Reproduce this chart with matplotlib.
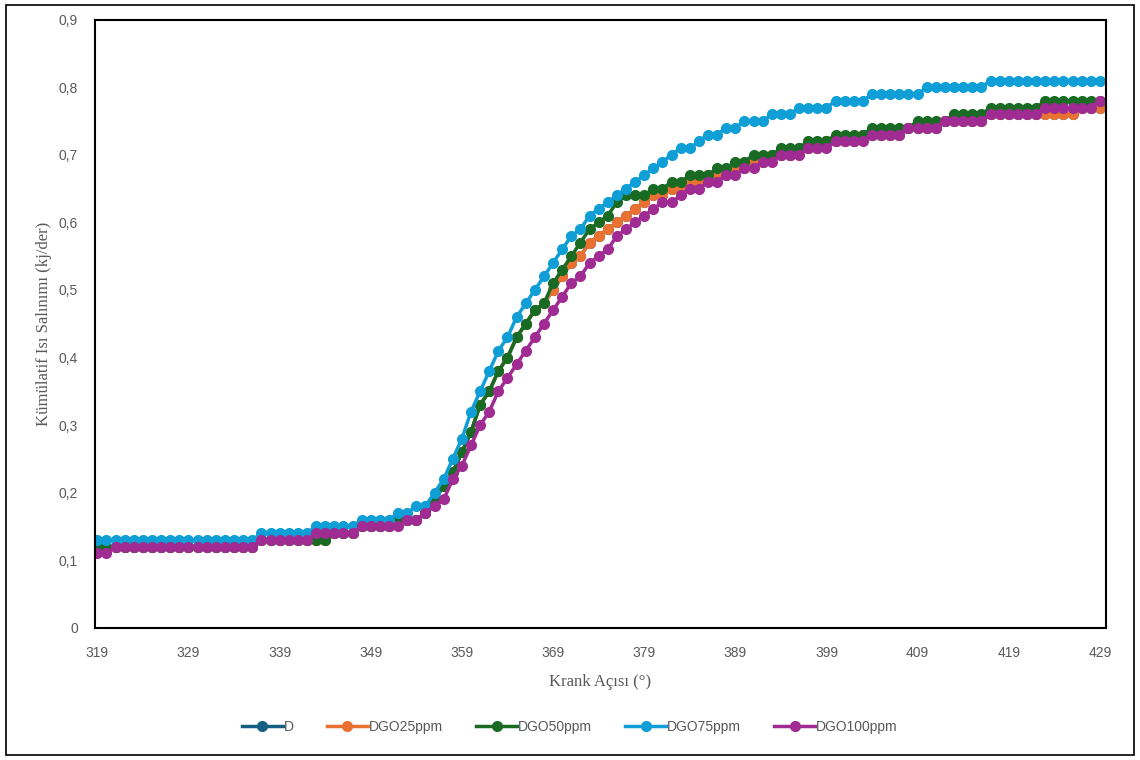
import matplotlib
matplotlib.use("Agg")
import matplotlib.pyplot as plt
from matplotlib.patches import Rectangle
from matplotlib.ticker import FuncFormatter

# krank açısı 319..429 derece
angle = list(range(319, 430))

# D serisi DGO25ppm ile örtüşüyor (grafikte görünmüyor)
d_vals = [
    0.12, 0.12, 0.12, 0.12, 0.12, 0.12, 0.12, 0.12, 0.12, 0.12,
    0.12, 0.12, 0.12, 0.12, 0.12, 0.12, 0.12, 0.12, 0.13, 0.13,
    0.13, 0.13, 0.13, 0.13, 0.13, 0.13, 0.14, 0.14, 0.14, 0.15,
    0.15, 0.15, 0.15, 0.16, 0.16, 0.16, 0.17, 0.19, 0.21, 0.23,
    0.26, 0.29, 0.33, 0.35, 0.38, 0.40, 0.43, 0.45, 0.47, 0.48,
    0.50, 0.52, 0.54, 0.55, 0.57, 0.58, 0.59, 0.60, 0.61, 0.62,
    0.63, 0.64, 0.64, 0.65, 0.65, 0.66, 0.66, 0.67, 0.67, 0.67,
    0.68, 0.68, 0.69, 0.69, 0.70, 0.70, 0.70, 0.71, 0.71, 0.71,
    0.72, 0.72, 0.72, 0.72, 0.73, 0.73, 0.73, 0.73, 0.73, 0.74,
    0.74, 0.74, 0.74, 0.75, 0.75, 0.75, 0.75, 0.75, 0.76, 0.76,
    0.76, 0.76, 0.76, 0.76, 0.76, 0.76, 0.76, 0.76, 0.77, 0.77,
    0.77,
]
dgo25 = [
    0.12, 0.12, 0.12, 0.12, 0.12, 0.12, 0.12, 0.12, 0.12, 0.12,
    0.12, 0.12, 0.12, 0.12, 0.12, 0.12, 0.12, 0.12, 0.13, 0.13,
    0.13, 0.13, 0.13, 0.13, 0.13, 0.13, 0.14, 0.14, 0.14, 0.15,
    0.15, 0.15, 0.15, 0.16, 0.16, 0.16, 0.17, 0.19, 0.21, 0.23,
    0.26, 0.29, 0.33, 0.35, 0.38, 0.40, 0.43, 0.45, 0.47, 0.48,
    0.50, 0.52, 0.54, 0.55, 0.57, 0.58, 0.59, 0.60, 0.61, 0.62,
    0.63, 0.64, 0.64, 0.65, 0.65, 0.66, 0.66, 0.67, 0.67, 0.67,
    0.68, 0.68, 0.69, 0.69, 0.70, 0.70, 0.70, 0.71, 0.71, 0.71,
    0.72, 0.72, 0.72, 0.72, 0.73, 0.73, 0.73, 0.73, 0.73, 0.74,
    0.74, 0.74, 0.74, 0.75, 0.75, 0.75, 0.75, 0.75, 0.76, 0.76,
    0.76, 0.76, 0.76, 0.76, 0.76, 0.76, 0.76, 0.76, 0.77, 0.77,
    0.77,
]
dgo50 = [
    0.12, 0.12, 0.12, 0.12, 0.12, 0.12, 0.12, 0.12, 0.12, 0.12,
    0.12, 0.12, 0.12, 0.12, 0.12, 0.12, 0.12, 0.12, 0.13, 0.13,
    0.13, 0.13, 0.13, 0.13, 0.13, 0.13, 0.14, 0.14, 0.14, 0.15,
    0.15, 0.15, 0.15, 0.16, 0.16, 0.16, 0.17, 0.19, 0.21, 0.23,
    0.26, 0.29, 0.33, 0.35, 0.38, 0.40, 0.43, 0.45, 0.47, 0.48,
    0.51, 0.53, 0.55, 0.57, 0.59, 0.60, 0.61, 0.63, 0.64, 0.64,
    0.64, 0.65, 0.65, 0.66, 0.66, 0.67, 0.67, 0.67, 0.68, 0.68,
    0.69, 0.69, 0.70, 0.70, 0.70, 0.71, 0.71, 0.71, 0.72, 0.72,
    0.72, 0.73, 0.73, 0.73, 0.73, 0.74, 0.74, 0.74, 0.74, 0.74,
    0.75, 0.75, 0.75, 0.75, 0.76, 0.76, 0.76, 0.76, 0.77, 0.77,
    0.77, 0.77, 0.77, 0.77, 0.78, 0.78, 0.78, 0.78, 0.78, 0.78,
    0.78,
]
dgo75 = [
    0.13, 0.13, 0.13, 0.13, 0.13, 0.13, 0.13, 0.13, 0.13, 0.13,
    0.13, 0.13, 0.13, 0.13, 0.13, 0.13, 0.13, 0.13, 0.14, 0.14,
    0.14, 0.14, 0.14, 0.14, 0.15, 0.15, 0.15, 0.15, 0.15, 0.16,
    0.16, 0.16, 0.16, 0.17, 0.17, 0.18, 0.18, 0.20, 0.22, 0.25,
    0.28, 0.32, 0.35, 0.38, 0.41, 0.43, 0.46, 0.48, 0.50, 0.52,
    0.54, 0.56, 0.58, 0.59, 0.61, 0.62, 0.63, 0.64, 0.65, 0.66,
    0.67, 0.68, 0.69, 0.70, 0.71, 0.71, 0.72, 0.73, 0.73, 0.74,
    0.74, 0.75, 0.75, 0.75, 0.76, 0.76, 0.76, 0.77, 0.77, 0.77,
    0.77, 0.78, 0.78, 0.78, 0.78, 0.79, 0.79, 0.79, 0.79, 0.79,
    0.79, 0.80, 0.80, 0.80, 0.80, 0.80, 0.80, 0.80, 0.81, 0.81,
    0.81, 0.81, 0.81, 0.81, 0.81, 0.81, 0.81, 0.81, 0.81, 0.81,
    0.81,
]
dgo100 = [
    0.11, 0.11, 0.12, 0.12, 0.12, 0.12, 0.12, 0.12, 0.12, 0.12,
    0.12, 0.12, 0.12, 0.12, 0.12, 0.12, 0.12, 0.12, 0.13, 0.13,
    0.13, 0.13, 0.13, 0.13, 0.14, 0.14, 0.14, 0.14, 0.14, 0.15,
    0.15, 0.15, 0.15, 0.15, 0.16, 0.16, 0.17, 0.18, 0.19, 0.22,
    0.24, 0.27, 0.30, 0.32, 0.35, 0.37, 0.39, 0.41, 0.43, 0.45,
    0.47, 0.49, 0.51, 0.52, 0.54, 0.55, 0.56, 0.58, 0.59, 0.60,
    0.61, 0.62, 0.63, 0.63, 0.64, 0.65, 0.65, 0.66, 0.66, 0.67,
    0.67, 0.68, 0.68, 0.69, 0.69, 0.70, 0.70, 0.70, 0.71, 0.71,
    0.71, 0.72, 0.72, 0.72, 0.72, 0.73, 0.73, 0.73, 0.73, 0.74,
    0.74, 0.74, 0.74, 0.75, 0.75, 0.75, 0.75, 0.75, 0.76, 0.76,
    0.76, 0.76, 0.76, 0.76, 0.77, 0.77, 0.77, 0.77, 0.77, 0.77,
    0.78,
]

series = [
    ("D", d_vals, "#156082"),
    ("DGO25ppm", dgo25, "#E97132"),
    ("DGO50ppm", dgo50, "#196B24"),
    ("DGO75ppm", dgo75, "#0F9ED5"),
    ("DGO100ppm", dgo100, "#A02B93"),
]

x_ticks = list(range(319, 430, 10))
y_ticks = [0, 0.1, 0.2, 0.3, 0.4, 0.5, 0.6, 0.7, 0.8, 0.9]

sans = ["Liberation Sans", "DejaVu Sans"]
serif = ["Liberation Serif", "DejaVu Serif"]
grey = "#595959"

fig = plt.figure(figsize=(11.4, 7.6), dpi=100)
ax = fig.add_axes([0.083, 0.174, 0.887, 0.8])

for name, vals, col in series:
    ax.plot(angle, vals, color=col, linewidth=2.5, marker="o",
            markersize=7, label=name)

ax.set_xlim(318.7, 429.65)
ax.set_ylim(0, 0.9)
ax.set_xticks(x_ticks)
ax.set_yticks(y_ticks)
ax.yaxis.set_major_formatter(FuncFormatter(
    lambda v, p: "0" if abs(v) < 1e-9 else f"{v:.1f}".replace(".", ",")))
ax.tick_params(length=0, labelsize=10, colors=grey)
ax.tick_params(axis="x", pad=13)
ax.tick_params(axis="y", pad=12)
for lab in ax.get_xticklabels() + ax.get_yticklabels():
    lab.set_family(sans)

for sp in ax.spines.values():
    sp.set_color("black")
    sp.set_linewidth(1.5)

ax.set_xlabel("Krank Açısı (°)", family=serif, fontsize=12, color=grey,
              labelpad=10)
ax.set_ylabel("Kümülatif Isı Salınımı (kj/der)", family=serif, fontsize=12,
              color=grey, labelpad=5)

leg = fig.legend(loc="center", bbox_to_anchor=(0.5, 0.043), ncol=5,
                 frameon=False, handlelength=2.9, columnspacing=2.4,
                 handletextpad=0.1, prop={"family": sans, "size": 10})
for t in leg.get_texts():
    t.set_color(grey)

# çerçeve
fig.patches.append(Rectangle((0.005, 0.007), 0.99, 0.986, transform=fig.transFigure,
                             fill=False, edgecolor="black", linewidth=1.2))

fig.savefig("out.png", dpi=100)
